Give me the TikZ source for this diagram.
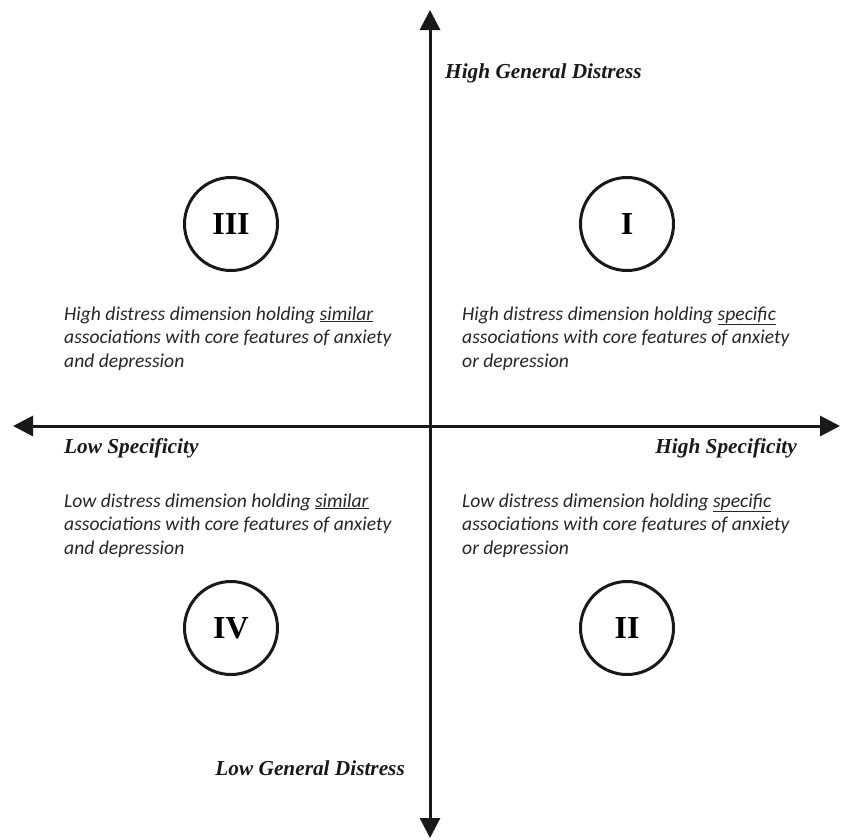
\documentclass[tikz,border=0pt]{standalone}
\usepackage{fontspec}
\setmainfont{Liberation Serif}
\newfontfamily\carl{Carlito}
\usetikzlibrary{arrows.meta}
\begin{document}
\begin{tikzpicture}[x=1pt,y=-1pt,
  axis/.style={line width=3pt,color=black!90,-{Triangle[length=20pt,width=20pt]}},
  quad/.style={circle,draw=black!90,line width=3pt,minimum size=93pt,inner sep=0pt,
    font=\fontsize{32}{32}\selectfont\bfseries},
  desc/.style={anchor=base west,align=left,inner sep=0pt,
    font=\carl\itshape\fontsize{19.6}{23.5}\selectfont,text=black!85},
  axlabel/.style={inner sep=0pt,font=\fontsize{21.3}{24}\selectfont\bfseries\itshape,text=black!90}]
\useasboundingbox (0,0) rectangle (843,839);
\coordinate (c) at (430,426);
\coordinate (top) at (430,10);
\coordinate (bot) at (430,838);
\coordinate (lft) at (13,426);
\coordinate (rgt) at (840,426);
\draw[axis] (c) -- (top);
\draw[axis] (c) -- (bot);
\draw[axis] (c) -- (lft);
\draw[axis] (c) -- (rgt);
\node[quad] (q3) at (231,224) {III};
\node[quad] (q1) at (627,224) {I};
\node[quad] (q4) at (231,628) {IV};
\node[quad] (q2) at (627,628) {II};
\node[desc] (t3) at (64,367) {High distress dimension holding \underline{similar}\\associations with core features of anxiety\\and depression};
\node[desc] (t1) at (462,367) {High distress dimension holding \underline{specific}\\associations with core features of anxiety\\or depression};
\node[desc] (t4) at (64,554) {Low distress dimension holding \underline{similar}\\associations with core features of anxiety\\and depression};
\node[desc] (t2) at (462,554) {Low distress dimension holding \underline{specific}\\associations with core features of anxiety\\or depression};
\node[axlabel,anchor=base west] (hgd) at (445,78) {High General Distress};
\node[axlabel,anchor=base east] (lgd) at (405,775) {Low General Distress};
\node[axlabel,anchor=base west] (ls) at (64,453) {Low Specificity};
\node[axlabel,anchor=base east] (hs) at (797,453) {High Specificity};
\end{tikzpicture}
\end{document}
